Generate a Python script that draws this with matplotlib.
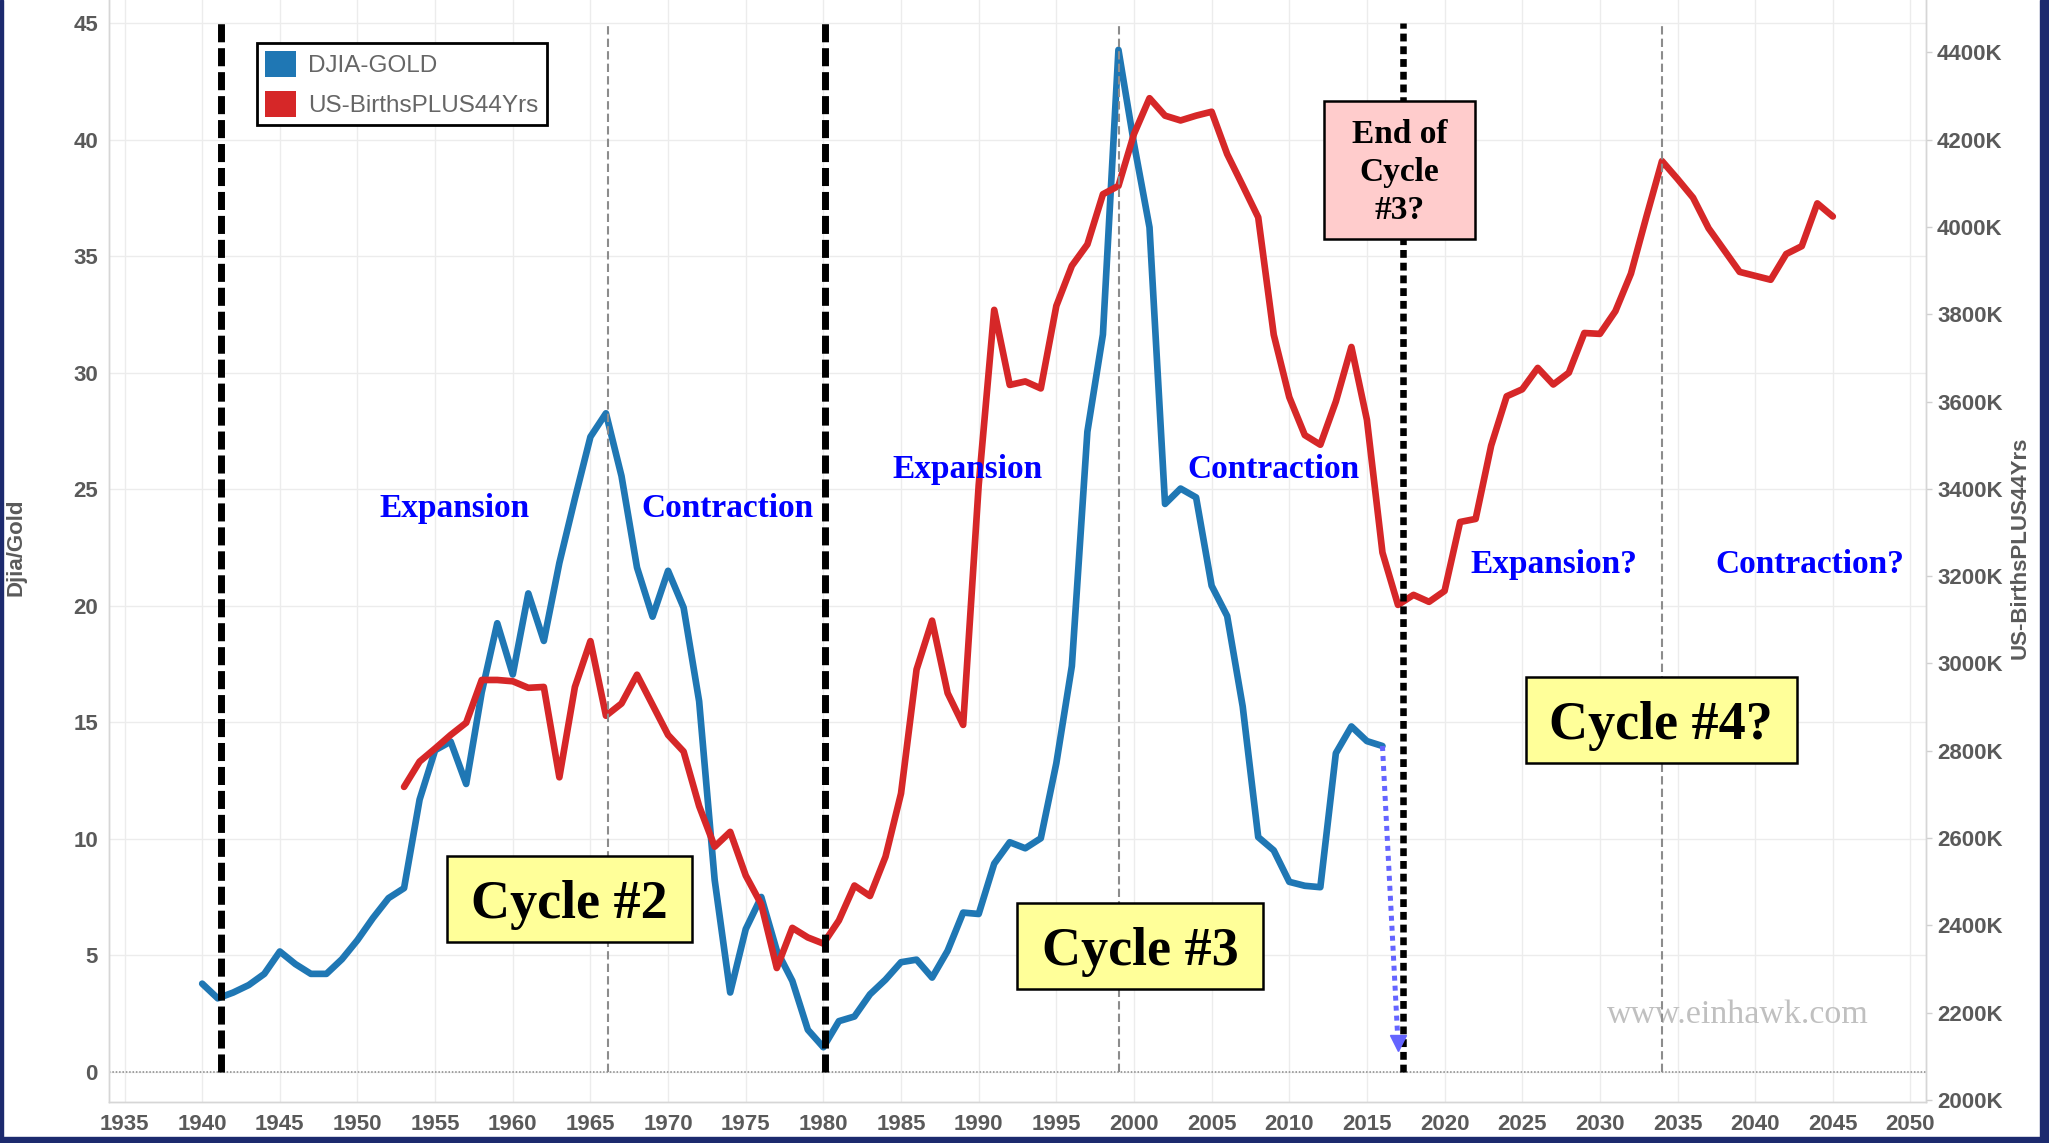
import matplotlib
matplotlib.use("Agg")
import matplotlib.pyplot as plt
from matplotlib import font_manager
from matplotlib.patches import Patch, Rectangle

# data
years_djia = list(range(1940, 2017))
djia_gold = [3.78, 3.15, 3.40, 3.72, 4.20, 5.16, 4.62, 4.20, 4.20, 4.83,
             5.65, 6.60, 7.45, 7.88, 11.68, 13.80, 14.17, 12.35, 16.28, 19.25,
             17.05, 20.53, 18.49, 21.84, 24.60, 27.25, 28.26, 25.57, 21.64, 19.53,
             21.50, 19.92, 15.90, 8.23, 3.40, 6.12, 7.50, 5.20, 3.90, 1.80,
             1.05, 2.17, 2.37, 3.32, 3.95, 4.70, 4.81, 4.04, 5.19, 6.83,
             6.77, 8.93, 9.85, 9.59, 10.02, 13.24, 17.41, 27.47, 31.64, 43.86,
             39.84, 36.24, 24.37, 25.03, 24.65, 20.86, 19.56, 15.68, 10.07, 9.50,
             8.15, 7.98, 7.92, 13.67, 14.82, 14.19, 13.98]

years_births = list(range(1953, 2046))
births_k = [2717, 2775, 2805, 2836, 2864, 2962, 2962, 2959, 2944, 2946,
            2739, 2946, 3051, 2880, 2908, 2974, 2905, 2836, 2798, 2673,
            2580, 2614, 2514, 2448, 2302, 2394, 2372, 2358, 2411, 2491,
            2467, 2557, 2702, 2986, 3098, 2932, 2859, 3408, 3810, 3638,
            3646, 3630, 3819, 3911, 3960, 4075, 4094, 4213, 4295, 4255,
            4244, 4255, 4264, 4167, 4095, 4022, 3753, 3610, 3523, 3501,
            3600, 3725, 3558, 3254, 3134, 3157, 3141, 3166, 3324, 3331,
            3499, 3612, 3628, 3677, 3639, 3666, 3757, 3755, 3807, 3893,
            4024, 4151, 4110, 4067, 3997, 3947, 3897, 3888, 3879, 3938,
            3956, 4054, 4024]

x_ticks = list(range(1935, 2051, 5))
left_ticks = list(range(0, 46, 5))
right_ticks = list(range(2000, 4401, 200))

cycle_lines = [1941.2, 1980.1]
peak_lines = [1966.1, 1999.05, 2034.0]
end_line = 2017.3

phase_labels = [("Expansion", 1956.25, 23.81), ("Contraction", 1973.83, 23.81),
                ("Expansion", 1989.27, 25.49), ("Contraction", 2008.98, 25.49),
                ("Expansion?", 2027.07, 21.39), ("Contraction?", 2043.53, 21.39)]

W, H = 2049, 1143
BLUE = '#1f77b4'
RED = '#d62728'
GREY_TXT = '#5a5a5a'

names = {f.name for f in font_manager.fontManager.ttflist}
if 'Liberation Sans Narrow' in names:
    sans, tsize = 'Liberation Sans Narrow', 18
else:
    sans, tsize = 'Liberation Sans', 16
serif = 'Liberation Serif'

fig = plt.figure(figsize=(W / 100, H / 100), dpi=100)
ax = fig.add_axes([109 / W, 1 - 1102 / H, (1926 - 109) / W, 1102 / H])
ax2 = ax.twinx()

ax.plot(years_djia, djia_gold, color=BLUE, lw=4.8, zorder=3, solid_capstyle='round')
ax2.plot(years_births, births_k, color=RED, lw=4.8, zorder=3, solid_capstyle='round')

ax.set_axisbelow(True)
ax.grid(True, color='#ececec', lw=1)
ax.axhline(0, color='#888888', lw=1.1, ls=(0, (1, 1.2)), zorder=2)

# reference lines, drawn on the top axes in left-axis units
for x in cycle_lines:
    ax2.plot([x, x], [0, 45], color='black', lw=5, ls=(0, (2.6, 0.85)),
             transform=ax.transData, zorder=5)
for x in peak_lines:
    ax2.plot([x, x], [0, 45], color='#8c8c8c', lw=1.5, ls=(0, (4, 2)),
             transform=ax.transData, zorder=5)
ax2.plot([end_line, end_line], [0, 45], color='black', lw=4.7, ls=(0, (1.2, 0.75)),
         transform=ax.transData, zorder=5)

# dotted arrow from last DJIA/Gold point
ax2.plot([years_djia[-1], 2017.0], [djia_gold[-1], 1.25], color='#6464ff', lw=3.6,
         ls=(0, (1, 1)), transform=ax.transData, zorder=6)
ax2.plot([2017.0], [1.25], marker='v', ms=12, color='#6464ff', lw=0,
         transform=ax.transData, zorder=6)

for txt, x, y in phase_labels:
    ax2.text(x, y, txt, transform=ax.transData, ha='center', va='baseline',
             fontsize=24, family=serif, weight='bold', color='#0000ff', zorder=7)

ax2.text(2038.9, 2.09, 'www.einhawk.com', transform=ax.transData, ha='center',
         va='baseline', fontsize=24.5, family=serif, color='#c0c0c0', zorder=4)

# limits and ticks
ax.set_xlim(1934, 2051)
ax.set_ylim(-1.3, 46.0)
ax2.set_ylim(1995, 4520)

ax.set_xticks(x_ticks)
ax.set_xticklabels([str(v) for v in x_ticks])
ax.set_yticks(left_ticks)
ax.set_yticklabels([str(v) for v in left_ticks])
ax2.set_yticks(right_ticks)
ax2.set_yticklabels([f"{v}K" for v in right_ticks])

for lab in ax.get_xticklabels() + ax.get_yticklabels() + ax2.get_yticklabels():
    lab.set_family(sans)
    lab.set_weight('bold')
    lab.set_fontsize(tsize)
    lab.set_color(GREY_TXT)

ax.tick_params(axis='x', length=0, pad=9)
ax.tick_params(axis='y', length=0, pad=8)
ax2.tick_params(axis='y', length=4.5, width=1, color='#d0d0d0', pad=3.5)

for a in (ax, ax2):
    a.spines['top'].set_visible(False)
    for s in ('left', 'right', 'bottom'):
        a.spines[s].set_color('#d6d6d6')
        a.spines[s].set_linewidth(1)

fig.text(16 / W, 1 - 547.6 / H, 'Djia/Gold', rotation=90, ha='center', va='center',
         family=sans, weight='bold', fontsize=tsize, color=GREY_TXT)
fig.text(2020 / W, 1 - 547.6 / H, 'US-BirthsPLUS44Yrs', rotation=90, ha='center',
         va='center', family=sans, weight='bold', fontsize=tsize, color=GREY_TXT)

# legend
handles = [Patch(facecolor=BLUE, edgecolor='none'), Patch(facecolor=RED, edgecolor='none')]
leg = fig.legend(handles, ['DJIA-GOLD', 'US-BirthsPLUS44Yrs'], loc='upper left',
                 bbox_to_anchor=(256.7 / W, 1 - 42.9 / H), bbox_transform=fig.transFigure,
                 prop={'family': 'Liberation Sans', 'size': 17.5}, frameon=True,
                 fancybox=False, edgecolor='black', framealpha=1,
                 handlelength=1.25, handleheight=1.25, handletextpad=0.52,
                 labelspacing=0.55, borderpad=0.35, borderaxespad=0)
leg.get_frame().set_linewidth(2)
for t in leg.get_texts():
    t.set_color('#666666')

# cycle boxes (pixel boxes in the figure)
boxes = [("Cycle #2", 447, 855.6, 692, 941.5, '#ffff99'),
         ("Cycle #3", 1017.4, 902.9, 1263, 988.7, '#ffff99'),
         ("Cycle #4?", 1526, 676.7, 1796.5, 762.6, '#ffff99')]
for txt, x0, y0, x1, y1, fc in boxes:
    fig.add_artist(Rectangle((x0 / W, 1 - y1 / H), (x1 - x0) / W, (y1 - y0) / H,
                             transform=fig.transFigure, facecolor=fc, edgecolor='black',
                             lw=1.8, zorder=10))
    cy = (y0 + y1) / 2 + 19
    fig.text((x0 + x1) / 2 / W, 1 - cy / H, txt, ha='center', va='baseline',
             family=serif, weight='bold', fontsize=39, color='black', zorder=11)

x0, y0, x1, y1 = 1324, 100.6, 1475, 239.4
fig.add_artist(Rectangle((x0 / W, 1 - y1 / H), (x1 - x0) / W, (y1 - y0) / H,
                         transform=fig.transFigure, facecolor='#ffcccc', edgecolor='black',
                         lw=1.8, zorder=10))
for i, line in enumerate(["End of", "Cycle", "#3?"]):
    by = (y0 + y1) / 2 + 10.8 + (i - 1) * 37.9
    fig.text((x0 + x1) / 2 / W, 1 - by / H, line, ha='center', va='baseline',
             family=serif, weight='bold', fontsize=24, color='black', zorder=11)

# dark frame edges of the screenshot
navy = '#1c2a6e'
fig.add_artist(Rectangle((2040 / W, 0), 9 / W, 1, transform=fig.transFigure,
                         color=navy, zorder=20))
fig.add_artist(Rectangle((0, 0), 1, 6 / H, transform=fig.transFigure, color=navy, zorder=20))
fig.add_artist(Rectangle((0, 0), 3 / W, 1, transform=fig.transFigure, color=navy, zorder=20))

fig.savefig('out.png', dpi=100)
